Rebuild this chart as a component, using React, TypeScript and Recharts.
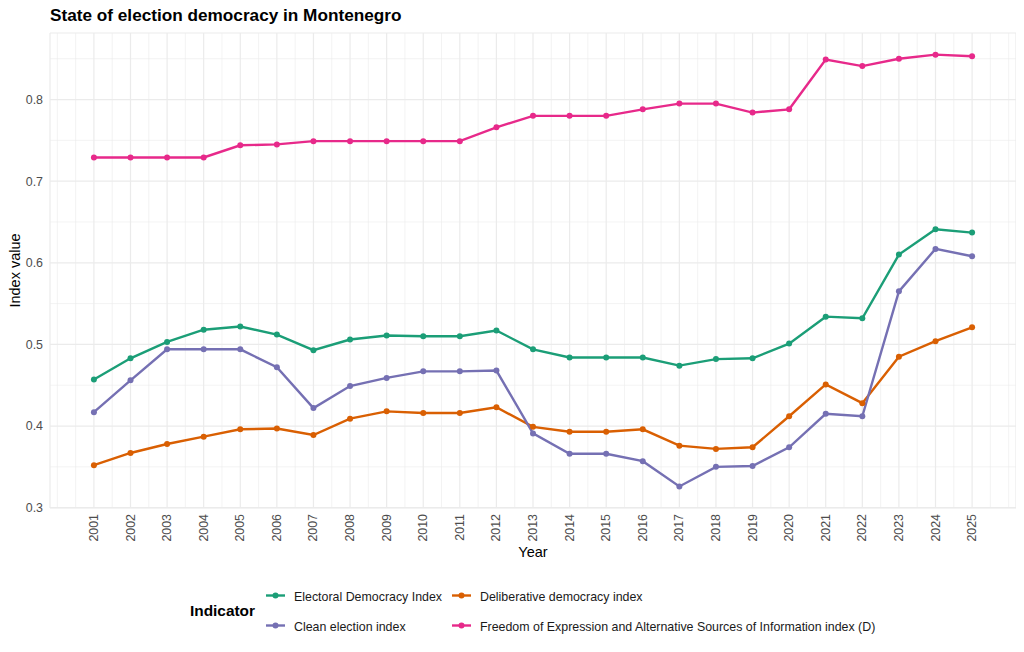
import React from "react";
import { LineChart, Line, XAxis, YAxis, CartesianGrid } from "recharts";

const years = [2001, 2002, 2003, 2004, 2005, 2006, 2007, 2008, 2009, 2010, 2011, 2012, 2013, 2014, 2015, 2016, 2017, 2018, 2019, 2020, 2021, 2022, 2023, 2024, 2025];

const electoral = [0.457, 0.483, 0.503, 0.518, 0.522, 0.512, 0.493, 0.506, 0.511, 0.510, 0.510, 0.517, 0.494, 0.484, 0.484, 0.484, 0.474, 0.482, 0.483, 0.501, 0.534, 0.532, 0.610, 0.641, 0.637];
const deliberative = [0.352, 0.367, 0.378, 0.387, 0.396, 0.397, 0.389, 0.409, 0.418, 0.416, 0.416, 0.423, 0.399, 0.393, 0.393, 0.396, 0.376, 0.372, 0.374, 0.412, 0.451, 0.428, 0.485, 0.504, 0.521];
const clean = [0.417, 0.456, 0.494, 0.494, 0.494, 0.472, 0.422, 0.449, 0.459, 0.467, 0.467, 0.468, 0.391, 0.366, 0.366, 0.357, 0.326, 0.350, 0.351, 0.374, 0.415, 0.412, 0.565, 0.617, 0.608];
const freedom = [0.729, 0.729, 0.729, 0.729, 0.744, 0.745, 0.749, 0.749, 0.749, 0.749, 0.749, 0.766, 0.780, 0.780, 0.780, 0.788, 0.795, 0.795, 0.784, 0.788, 0.849, 0.841, 0.850, 0.855, 0.853];

const yTicks = [0.3, 0.4, 0.5, 0.6, 0.7, 0.8];
const yMinor = [0.35, 0.45, 0.55, 0.65, 0.75, 0.85];
const xMinor = [2000, ...years.map((y) => y - 0.5), 2025.5, 2026];

const seriesNames = [
  "Electoral Democracy Index",
  "Deliberative democracy index",
  "Clean election index",
  "Freedom of Expression and Alternative Sources of Information index (D)",
];
const seriesKeys = ["electoral", "deliberative", "clean", "freedom"];
const seriesColors = ["#1B9E77", "#D95F02", "#7570B3", "#E7298A"];

const data = years.map((year, i) => ({
  year,
  electoral: electoral[i],
  deliberative: deliberative[i],
  clean: clean[i],
  freedom: freedom[i],
}));

const FONT = "'Liberation Sans', Arial, Helvetica, sans-serif";
const TICK_SIZE = 12.4;

const XTick = (props: any) => {
  const { x, y, payload } = props;
  return (
    <text
      x={x}
      y={y}
      transform={`rotate(-90, ${x}, ${y})`}
      textAnchor="end"
      dominantBaseline="central"
      fill="#4D4D4D"
      fontSize={TICK_SIZE}
      fontFamily={FONT}
    >
      {payload.value}
    </text>
  );
};

const legendItems = [
  { i: 0, kx: 266, ty: 600.7, ky: 595.5 },
  { i: 1, kx: 452, ty: 600.7, ky: 595.5 },
  { i: 2, kx: 266, ty: 630.7, ky: 625.5 },
  { i: 3, kx: 452, ty: 630.7, ky: 625.5 },
];

export default function App() {
  return (
    <div style={{ position: "relative", width: 1008, height: 636, fontFamily: FONT }}>
      <LineChart
        width={1008}
        height={636}
        data={data}
        margin={{ top: 25, right: 0, bottom: 86, left: 0 }}
      >
        <CartesianGrid
          stroke="#EBEBEB"
          strokeWidth={0.6}
          verticalValues={xMinor}
          horizontalValues={yMinor}
        />
        <CartesianGrid stroke="#EBEBEB" strokeWidth={1.2} />
        <XAxis
          dataKey="year"
          type="number"
          domain={[1999.8, 2026.2]}
          ticks={years}
          interval={0}
          allowDataOverflow
          axisLine={false}
          tickLine={false}
          tickSize={0}
          tickMargin={6}
          height={50}
          tick={<XTick />}
        />
        <YAxis
          type="number"
          domain={[0.2996, 0.8815]}
          ticks={yTicks}
          allowDataOverflow
          axisLine={false}
          tickLine={false}
          tickSize={0}
          tickMargin={7}
          width={42}
          tick={{ fontSize: TICK_SIZE, fill: "#4D4D4D", fontFamily: FONT }}
        />
        {seriesKeys.map((k, i) => (
          <Line
            key={k}
            type="linear"
            dataKey={k}
            name={seriesNames[i]}
            stroke={seriesColors[i]}
            strokeWidth={2.4}
            dot={{ r: 3, fill: seriesColors[i], stroke: seriesColors[i], strokeWidth: 0 }}
            activeDot={false}
            isAnimationActive={false}
          />
        ))}
      </LineChart>
      <svg
        width={1024}
        height={652}
        style={{ position: "absolute", left: -8, top: -8, pointerEvents: "none" }}
      >
        <text x={50} y={21} fontSize={17.2} fontWeight="bold" fill="#000" fontFamily={FONT}>
          State of election democracy in Montenegro
        </text>
        <text
          x={20}
          y={270.5}
          transform="rotate(-90, 20, 270.5)"
          textAnchor="middle"
          fontSize={14.5}
          fill="#000"
          fontFamily={FONT}
        >
          Index value
        </text>
        <text x={533} y={557} textAnchor="middle" fontSize={14.5} fill="#000" fontFamily={FONT}>
          Year
        </text>
        <text x={190} y={616} fontSize={15.4} fontWeight="bold" fill="#000" fontFamily={FONT}>
          Indicator
        </text>
        {legendItems.map((it) => (
          <g key={it.i}>
            <line
              x1={it.kx}
              x2={it.kx + 19}
              y1={it.ky}
              y2={it.ky}
              stroke={seriesColors[it.i]}
              strokeWidth={2.4}
            />
            <circle cx={it.kx + 9.5} cy={it.ky} r={3} fill={seriesColors[it.i]} />
            <text x={it.kx + 28} y={it.ty} fontSize={12.4} fill="#1A1A1A" fontFamily={FONT}>
              {seriesNames[it.i]}
            </text>
          </g>
        ))}
      </svg>
    </div>
  );
}
